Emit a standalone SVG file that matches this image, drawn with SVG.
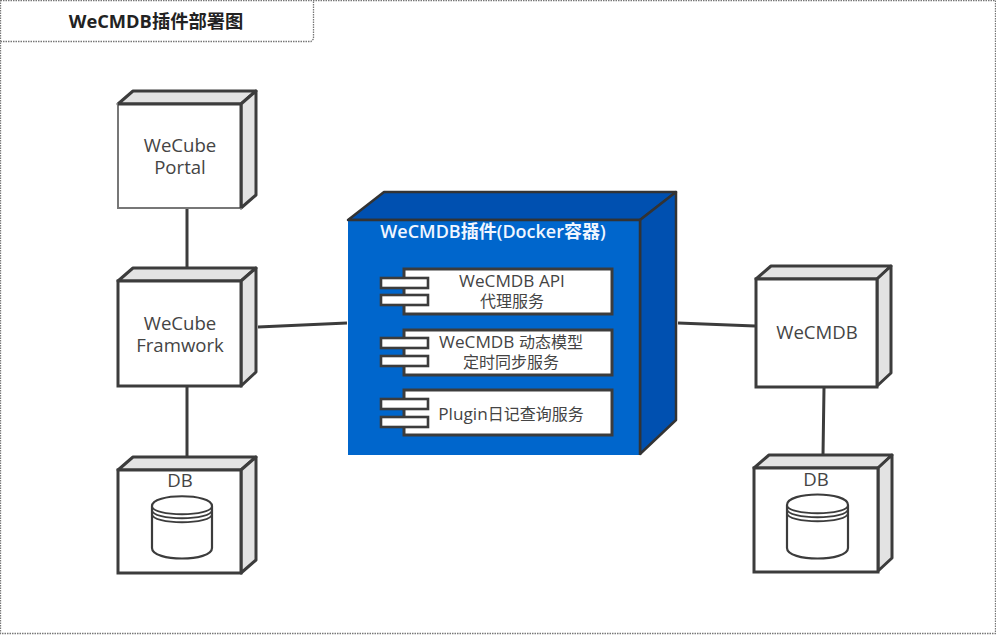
<svg xmlns="http://www.w3.org/2000/svg" width="996" height="635" viewBox="0 0 996 635">
<defs>
<style>
text{font-family:"Open Sans","Noto Sans CJK SC",sans-serif;fill:#444;text-anchor:middle}
.f{fill:#fff;stroke:#3c3c3c;stroke-width:3}
.s{fill:#e3e3e3;stroke:#3c3c3c;stroke-width:3;stroke-linejoin:round}
.b{fill:#fff;stroke:#3c3c3c;stroke-width:3}
.c{fill:#fff;stroke:#3c3c3c;stroke-width:2.6}
.l{fill:none;stroke:#3c3c3c;stroke-width:3}
.n{font-size:18.600px}
.m{font-size:16px}
.la{font-size:17.200px}
.d{fill:none;stroke:#777;stroke-width:1.300;stroke-dasharray:1.500 1}
.cy{fill:#fff;stroke:#3c3c3c;stroke-width:2.200}
</style>
</defs>
<rect x="0.5" y="0.5" width="995" height="633" class="d"/>
<path d="M0.5 41.5H311L313.500 39V0.500" class="d"/>
<text x="156" y="28" style="font-size:18.300px;font-weight:700;fill:#222">WeCMDB插件部署图</text>
<g id="connectors">
<path class="l" d="M187 208V268M187 386V457M258 327L347 323M678 323L755 326M824 388L823 455"/>
</g>
<g id="portal">
<path class="s" d="M118 104L133 91H256L241 104Z"/>
<path class="s" d="M241 104L256 91V195L241 208Z"/>
<rect x="118" y="104" width="123" height="104" fill="#fff" stroke="#777" stroke-width="2"/>
<path d="M118 104H241V208" fill="none" stroke="#3c3c3c" stroke-width="3"/>
<text class="n" x="180" y="152">WeCube</text>
<text class="n" x="180" y="174">Portal</text>
</g>
<g id="framwork">
<path class="s" d="M118 281L133 268H256L241 281Z"/>
<path class="s" d="M241 281L256 268V372L241 386Z"/>
<rect class="f" x="118" y="281" width="123" height="105"/>
<text class="n" x="180" y="330">WeCube</text>
<text class="n" x="180" y="352">Framwork</text>
</g>
<g id="db-left">
<path class="s" d="M118 470L133 457H256L241 470Z"/>
<path class="s" d="M241 470L256 457V560L241 573Z"/>
<rect class="f" x="118" y="470" width="123" height="103"/>
<text class="n" x="180" y="487">DB</text>
<path class="cy" d="M152 506C152 493 212 493 212 506V548C212 562 152 562 152 548Z"/>
<path class="l" style="stroke-width:1.800" d="M152 506C152 517 212 517 212 506M152 510C152 521 212 521 212 510M152 514C152 525 212 525 212 514"/>
</g>
<g id="plugin">
<path d="M348 220L384 192H676L640 220Z" fill="#0050b0" stroke="#333" stroke-width="2.500" stroke-linejoin="round"/>
<path d="M640 220L676 192V420L640 454Z" fill="#0050b0" stroke="#333" stroke-width="2.500" stroke-linejoin="round"/>
<rect x="348" y="220" width="292" height="235" fill="#0066cc"/>
<path d="M348 220H640V455" fill="none" stroke="#333" stroke-width="2.500"/>
<text x="493" y="238" style="font-size:18px;font-weight:600;fill:#f0f6ff">WeCMDB插件(Docker容器)</text>
</g>
<g id="comp-api">
<rect class="b" x="404" y="269" width="208" height="45"/>
<rect class="c" x="381" y="278" width="47" height="10"/>
<rect class="c" x="381" y="295" width="47" height="10"/>
<text class="la" x="512" y="287">WeCMDB API</text>
<text class="m" x="512" y="307">代理服务</text>
</g>
<g id="comp-sync">
<rect class="b" x="404" y="330" width="208" height="45"/>
<rect class="c" x="381" y="338" width="47" height="10"/>
<rect class="c" x="381" y="356" width="47" height="10"/>
<text class="m" x="511" y="348"><tspan class="la">WeCMDB </tspan>动态模型</text>
<text class="m" x="511" y="368">定时同步服务</text>
</g>
<g id="comp-log">
<rect class="b" x="404" y="390" width="208" height="45"/>
<rect class="c" x="381" y="399" width="47" height="10"/>
<rect class="c" x="381" y="417" width="47" height="10"/>
<text class="m" x="511" y="420"><tspan class="la">Plugin</tspan>日记查询服务</text>
</g>
<g id="wecmdb">
<path class="s" d="M756 279L771 266H891L877 279Z"/>
<path class="s" d="M877 279L891 266V373L877 386Z"/>
<rect class="f" x="756" y="279" width="121" height="108"/>
<text class="n" x="817" y="339">WeCMDB</text>
</g>
<g id="db-right">
<path class="s" d="M754 468L769 455H892L878 468Z"/>
<path class="s" d="M878 468L892 455V558L878 571Z"/>
<rect class="f" x="754" y="468" width="124" height="104"/>
<text class="n" x="816" y="486">DB</text>
<path class="cy" d="M787 505C787 491 848 491 848 505V548C848 562 787 562 787 548Z"/>
<path class="l" style="stroke-width:1.800" d="M787 505C787 516 848 516 848 505M787 509C787 520 848 520 848 509M787 513C787 524 848 524 848 513"/>
</g>
</svg>
